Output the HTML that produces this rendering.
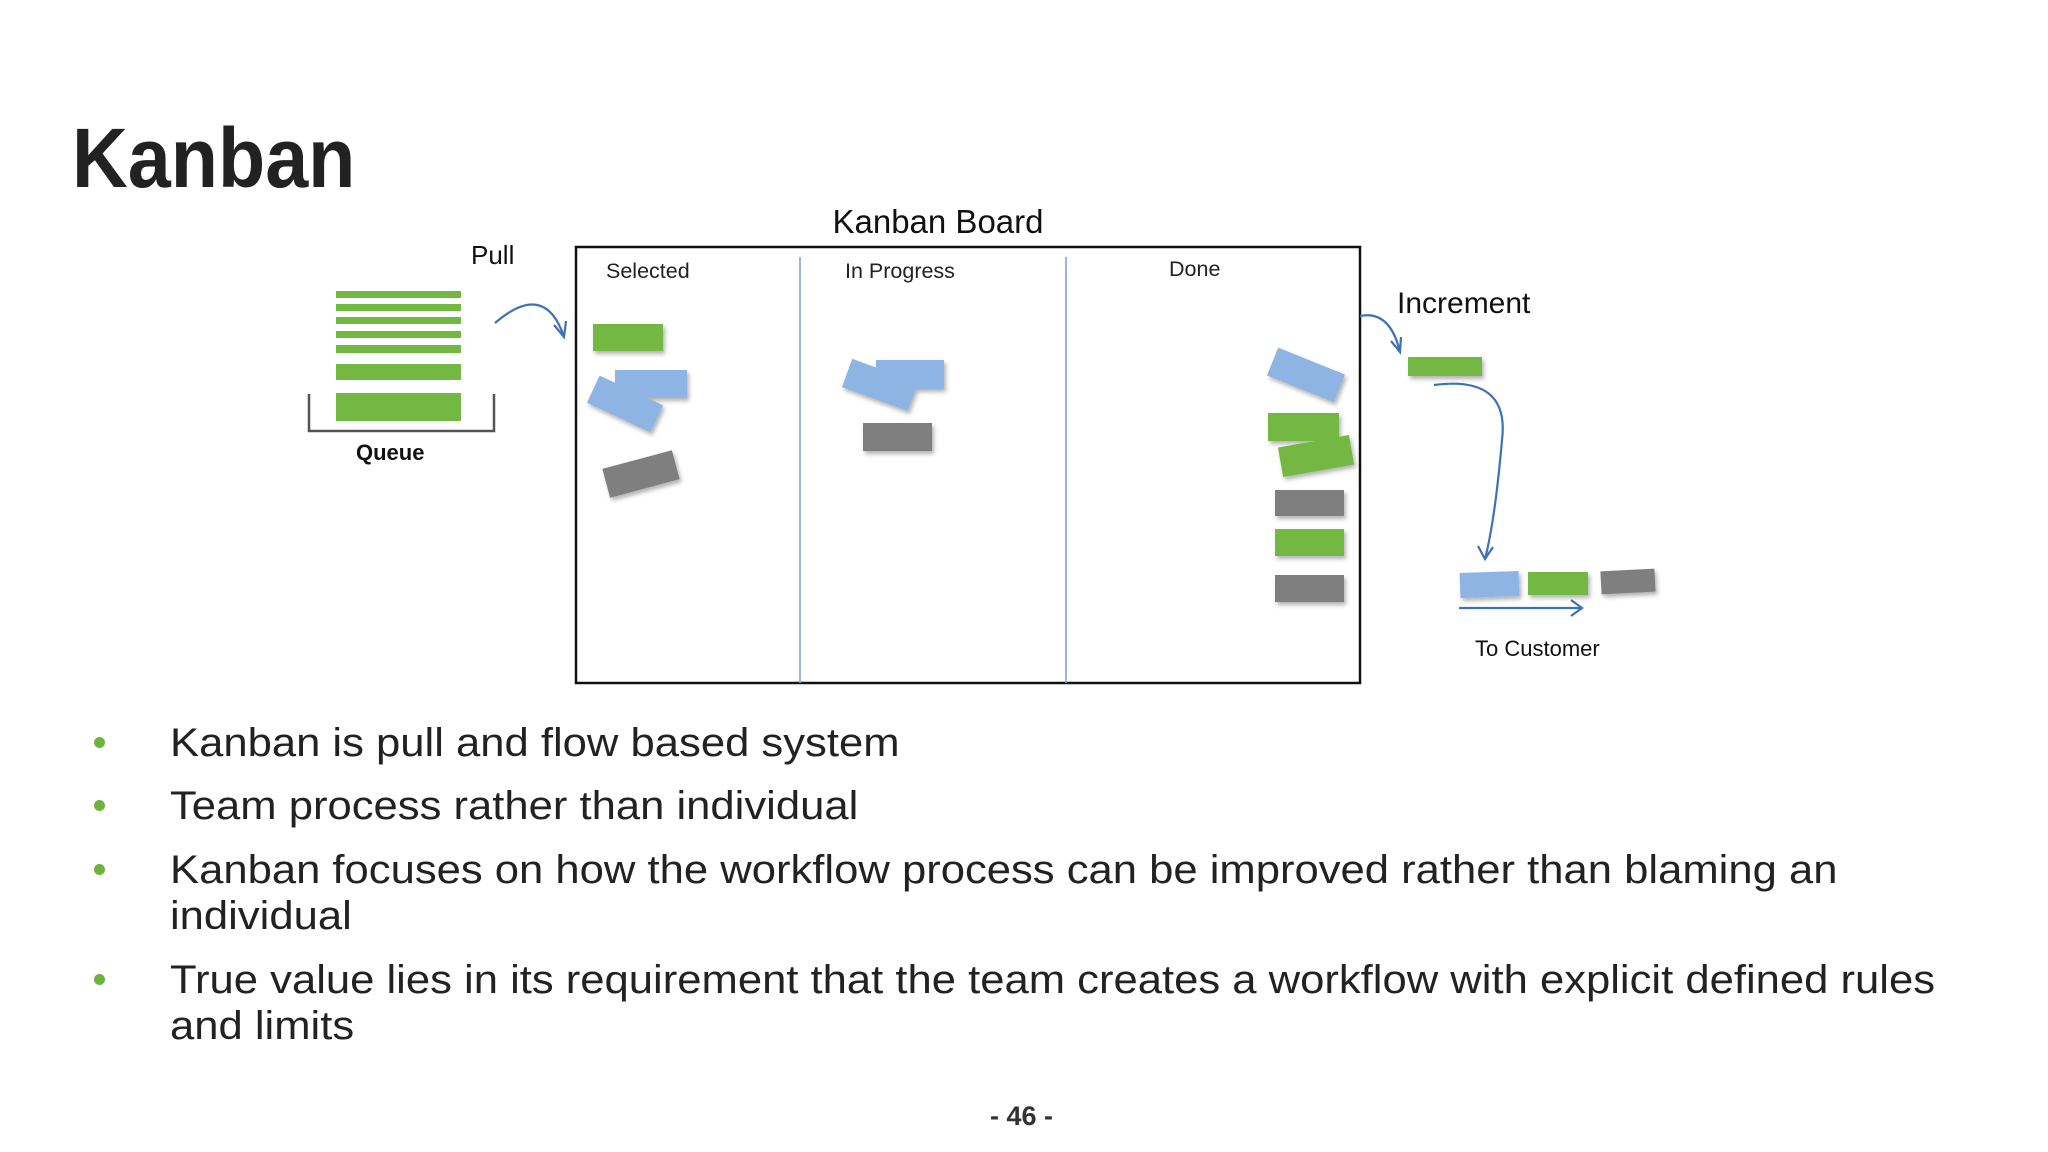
<!DOCTYPE html>
<html><head><meta charset="utf-8"><style>
html,body{margin:0;padding:0;background:#fff;}
body{width:2048px;height:1152px;position:relative;overflow:hidden;font-family:"Liberation Sans",sans-serif;color:#222;}
.t{position:absolute;white-space:nowrap;}
.b{position:absolute;left:170px;font-size:40px;color:#222;white-space:nowrap;line-height:46px;transform:scaleX(1.09);transform-origin:0 0;}
.dot{position:absolute;left:94px;width:11px;height:11px;border-radius:50%;background:#6db33f;}
</style></head><body>
<div class="t" style="left:72px;top:110px;font-size:84px;font-weight:bold;color:#222;transform:scaleX(0.92);transform-origin:0 0;">Kanban</div>
<svg width="2048" height="1152" style="position:absolute;left:0;top:0">
<defs>
<filter id="sh" x="-20%" y="-20%" width="140%" height="160%"><feDropShadow dx="2" dy="3" stdDeviation="2" flood-opacity="0.3"/></filter>
</defs>
<g font-family="Liberation Sans Narrow, Liberation Sans, sans-serif" fill="#111">
<text x="938" y="233" font-size="33" text-anchor="middle">Kanban Board</text>
<text x="471" y="264" font-size="26">Pull</text>
<text x="1397" y="313" font-size="30">Increment</text>
<text x="1475" y="656" font-size="22">To Customer</text>
<text x="356" y="460" font-size="22" font-weight="bold">Queue</text>
</g>
<g font-family="Liberation Sans, sans-serif" fill="#222" font-size="21.5">
<text x="606" y="278">Selected</text>
<text x="845" y="278">In Progress</text>
<text x="1169" y="276">Done</text>
</g>
<rect x="576" y="247" width="784" height="436" fill="none" stroke="#111" stroke-width="2.5"/>
<line x1="800" y1="257" x2="800" y2="683" stroke="#7a9cd0" stroke-width="1.5"/>
<line x1="1066" y1="257" x2="1066" y2="683" stroke="#7a9cd0" stroke-width="1.5"/>
<g fill="#72b843">
<rect x="336" y="291" width="125" height="7"/><rect x="336" y="304" width="125" height="7"/>
<rect x="336" y="317" width="125" height="7"/><rect x="336" y="331" width="125" height="7"/>
<rect x="336" y="345" width="125" height="8"/><rect x="336" y="364" width="125" height="16"/>
<rect x="336" y="393" width="125" height="28"/>
</g>
<path d="M309 394 V431 H494 V394" fill="none" stroke="#555" stroke-width="2.5"/>
<g fill="none" stroke="#3f72b5" stroke-width="2.2">
<path d="M495 323 Q545 280 564 337"/><path d="M554 325 L564 337 L566 321"/>
<path d="M1360 316 Q1390 310 1400 352"/><path d="M1391 341 L1400 352 L1401 337"/>
<path d="M1434 385 Q1510 375 1502 440 Q1495 520 1485 559"/><path d="M1478 546 L1485 559 L1493 547"/>
<path d="M1459 608 H1582"/><path d="M1571 600 L1582 608 L1571 616"/>
</g>
<g filter="url(#sh)">
<rect x="593" y="324" width="70" height="27" fill="#72b843"/>
<rect x="615" y="370" width="72" height="28" fill="#8eb4e3"/>
<rect x="-35" y="-15" width="70" height="30" fill="#8eb4e3" transform="translate(625,404) rotate(25)"/>
<rect x="-36" y="-15" width="72" height="30" fill="#7f7f7f" transform="translate(641,474) rotate(-15)"/>
<rect x="876" y="360" width="68" height="29" fill="#8eb4e3"/>
<rect x="-35" y="-15" width="70" height="30" fill="#8eb4e3" transform="translate(880,385) rotate(20)"/>
<rect x="863" y="423" width="69" height="28" fill="#7f7f7f"/>
<rect x="-36" y="-15" width="72" height="30" fill="#8eb4e3" transform="translate(1306,375) rotate(22)"/>
<rect x="1268" y="413" width="71" height="28" fill="#72b843"/>
<rect x="-36" y="-15" width="72" height="30" fill="#72b843" transform="translate(1316,456) rotate(-10)"/>
<rect x="1275" y="490" width="69" height="26" fill="#7f7f7f"/>
<rect x="1275" y="529" width="69" height="27" fill="#72b843"/>
<rect x="1275" y="575" width="69" height="27" fill="#7f7f7f"/>
<rect x="1408" y="357" width="74" height="19" fill="#72b843"/>
<rect x="1460" y="572" width="59" height="25" fill="#8eb4e3" transform="rotate(-2 1490 584)"/>
<rect x="1528" y="572" width="60" height="23" fill="#72b843"/>
<rect x="1601" y="570" width="54" height="23" fill="#7f7f7f" transform="rotate(-3 1628 582)"/>
</g>
</svg>
<div class="dot" style="top:737px"></div>
<div class="b" style="top:720px">Kanban is pull and flow based system</div>
<div class="dot" style="top:800px"></div>
<div class="b" style="top:783px">Team process rather than individual</div>
<div class="dot" style="top:864px"></div>
<div class="b" style="top:847px">Kanban focuses on how the workflow process can be improved rather than blaming an<br>individual</div>
<div class="dot" style="top:974px"></div>
<div class="b" style="top:957px">True value lies in its requirement that the team creates a workflow with explicit defined rules<br>and limits</div>
<div class="t" style="left:990px;top:1101px;font-size:27px;font-weight:bold;color:#333;">- 46 -</div>
</body></html>
